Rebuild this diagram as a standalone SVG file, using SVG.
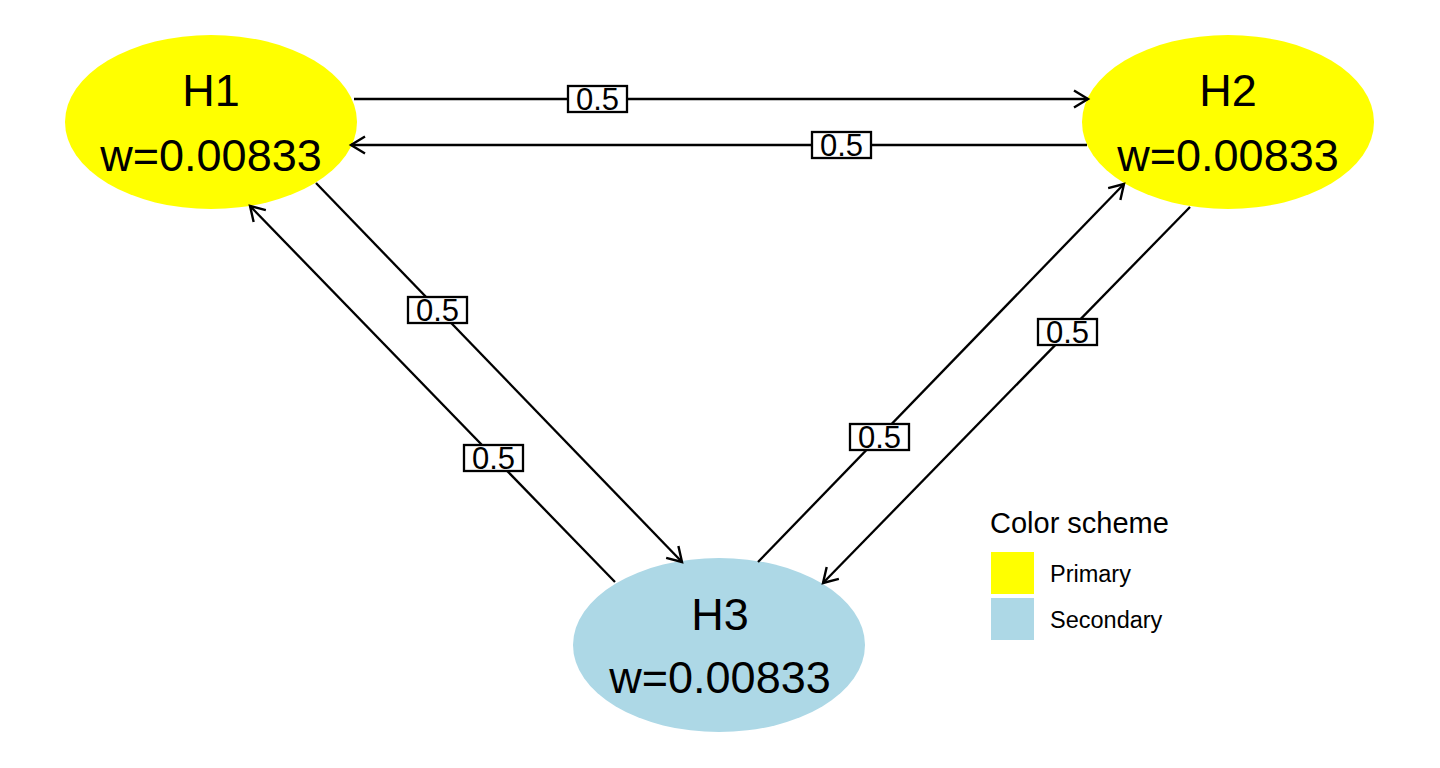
<svg xmlns="http://www.w3.org/2000/svg" width="1440" height="768" viewBox="0 0 1440 768">
<style>
.node-text{font-family:"Liberation Sans",Arial,sans-serif;font-size:45px;fill:#000;text-anchor:middle}
.edge{stroke:#000;stroke-width:2.3;fill:none;marker-end:url(#arr)}
.lbl-box{fill:#fff;stroke:#000;stroke-width:2.3}
.lbl{font-family:"Liberation Sans",Arial,sans-serif;font-size:31px;fill:#000;text-anchor:middle}
.leg-title{font-family:"Liberation Sans",Arial,sans-serif;font-size:29px;fill:#000}
.leg-text{font-family:"Liberation Sans",Arial,sans-serif;font-size:23.5px;fill:#000}
</style>
<defs>
<marker id="arr" markerUnits="userSpaceOnUse" markerWidth="20" markerHeight="20" viewBox="-16 -10 18 20" refX="0" refY="0" orient="auto">
<path d="M-14,-8.5 L0,0 L-14,8.5" fill="none" stroke="#000" stroke-width="2.4"/>
</marker>
</defs>
<rect width="1440" height="768" fill="#fff"/>
<g id="H1"><ellipse cx="211" cy="122" rx="146" ry="87" fill="#ffff00"/><text class="node-text" x="211" y="106">H1</text><text class="node-text" x="211" y="171">w=0.00833</text></g>
<g id="H2"><ellipse cx="1228" cy="122" rx="146" ry="87" fill="#ffff00"/><text class="node-text" x="1228" y="106">H2</text><text class="node-text" x="1228" y="171">w=0.00833</text></g>
<g id="H3"><ellipse cx="719" cy="645" rx="146" ry="87" fill="#add8e6"/><text class="node-text" x="720" y="630">H3</text><text class="node-text" x="720" y="693">w=0.00833</text></g>
<g id="connectors">
<line class="edge" x1="354" y1="99" x2="1088" y2="99"/>
<line class="edge" x1="1087" y1="145" x2="351" y2="145"/>
<line class="edge" x1="316" y1="183" x2="682" y2="562"/>
<line class="edge" x1="615" y1="582" x2="250" y2="206"/>
<line class="edge" x1="758" y1="562" x2="1124" y2="184"/>
<line class="edge" x1="1190" y1="207" x2="823" y2="583"/>
<g id="labels">
<rect class="lbl-box" x="568" y="86" width="59" height="26"/><text class="lbl" x="597.5" y="110">0.5</text>
<rect class="lbl-box" x="812" y="132" width="59" height="26"/><text class="lbl" x="841.5" y="156">0.5</text>
<rect class="lbl-box" x="408" y="297" width="59" height="26"/><text class="lbl" x="437.5" y="321">0.5</text>
<rect class="lbl-box" x="464" y="445" width="59" height="26"/><text class="lbl" x="493.5" y="469">0.5</text>
<rect class="lbl-box" x="850" y="424" width="59" height="26"/><text class="lbl" x="879.5" y="448">0.5</text>
<rect class="lbl-box" x="1038" y="319" width="59" height="26"/><text class="lbl" x="1067.5" y="343">0.5</text>
</g>
</g>
<g id="legend">
<text class="leg-title" x="990" y="533">Color scheme</text>
<rect x="991" y="552" width="43" height="42" fill="#ffff00"/>
<rect x="991" y="598" width="43" height="42" fill="#add8e6"/>
<text class="leg-text" x="1050" y="582">Primary</text>
<text class="leg-text" x="1050" y="628">Secondary</text>
</g>
</svg>
